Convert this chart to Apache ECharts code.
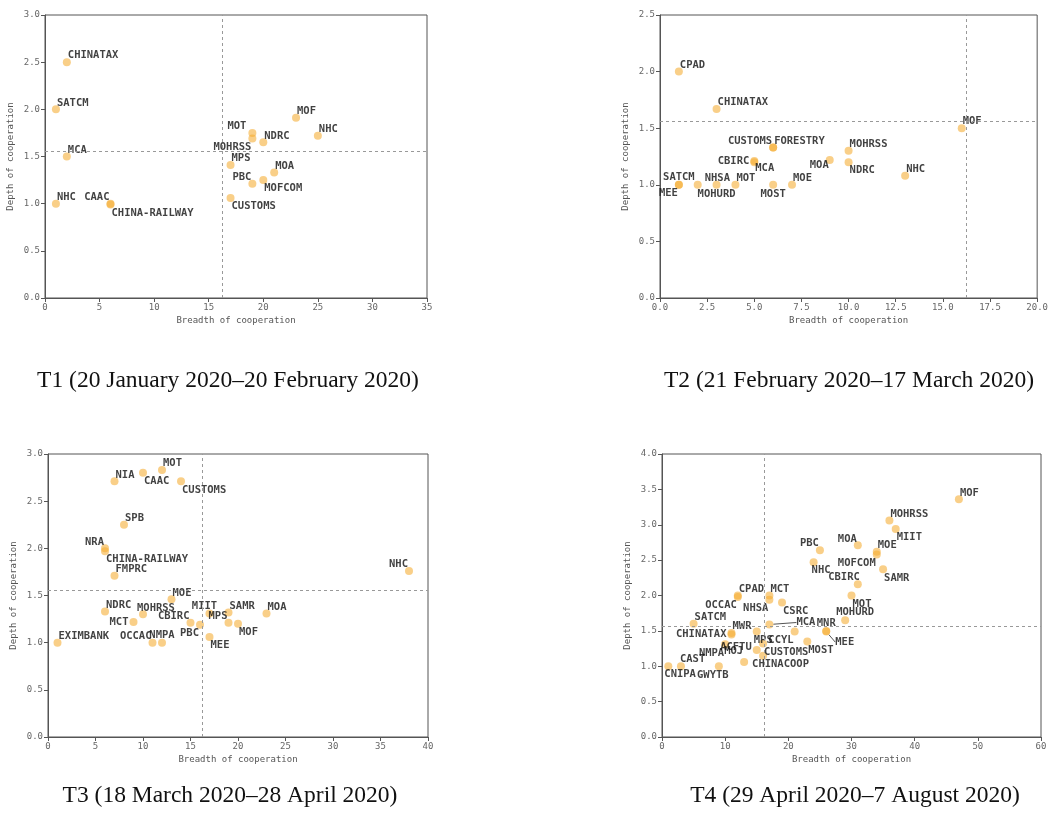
<!DOCTYPE html>
<html>
<head>
<meta charset="utf-8">
<script src="https://cdn.jsdelivr.net/npm/echarts@6/dist/echarts.min.js"></script>
<style>
  html, body { margin: 0; padding: 0; background: #fff; }
  #chart { width: 1051px; height: 837px; }
</style>
</head>
<body>
<div id="chart"></div>
<script>
// T1 (20 Jan - 20 Feb 2020)
const t1Names = ['CHINATAX', 'SATCM', 'MCA', 'NHC', 'CAAC', 'CHINA-RAILWAY', 'MOT', 'MOHRSS', 'NDRC',
  'MOF', 'NHC', 'MPS', 'MOA', 'PBC', 'MOFCOM', 'CUSTOMS'];
const t1Breadth = [2, 1, 2, 1, 6, 6, 19, 19, 20, 23, 25, 17, 21, 19, 20, 17];
const t1Depth = [2.5, 2.0, 1.5, 1.0, 1.0, 0.99, 1.75, 1.69, 1.65, 1.91, 1.72, 1.41, 1.33, 1.21, 1.25, 1.06];

// T2 (21 Feb - 17 Mar 2020)
const t2Names = ['CPAD', 'CHINATAX', 'MOF', 'CUSTOMS', 'FORESTRY', 'MOHRSS', 'NDRC', 'MOA', 'CBIRC', 'MCA',
  'NHC', 'SATCM', 'MEE', 'NHSA', 'MOHURD', 'MOT', 'MOST', 'MOE'];
const t2Breadth = [1, 3, 16, 6, 6, 10, 10, 9, 5, 5, 13, 1, 1, 2, 3, 4, 6, 7];
const t2Depth = [2.0, 1.67, 1.5, 1.33, 1.33, 1.3, 1.2, 1.22, 1.21, 1.2, 1.08, 1.0, 1.0, 1.0, 1.0, 1.0, 1.0, 1.0];

// T3 (18 Mar - 28 Apr 2020)
const t3Names = ['MOT', 'CAAC', 'NIA', 'CUSTOMS', 'SPB', 'NRA', 'CHINA-RAILWAY', 'FMPRC', 'NHC', 'MOE',
  'NDRC', 'MOHRSS', 'MCT', 'CBIRC', 'PBC', 'MIIT', 'MPS', 'SAMR', 'MOF', 'MOA', 'MEE', 'EXIMBANK', 'OCCAC', 'NMPA'];
const t3Breadth = [12, 10, 7, 14, 8, 6, 6, 7, 38, 13, 6, 10, 9, 15, 16, 17, 19, 19, 20, 23, 17, 1, 11, 12];
const t3Depth = [2.83, 2.8, 2.71, 2.71, 2.25, 2.0, 1.97, 1.71, 1.76, 1.46, 1.33, 1.3, 1.22, 1.21, 1.19,
  1.31, 1.21, 1.32, 1.2, 1.31, 1.06, 1.0, 1.0, 1.0];

// T4 (29 Apr - 7 Aug 2020)
const t4Names = ['MOF', 'MOHRSS', 'MIIT', 'PBC', 'MOA', 'MOE', 'MOFCOM', 'NHC', 'SAMR', 'CBIRC', 'MOT',
  'CPAD', 'OCCAC', 'MCT', 'NHSA', 'CSRC', 'SATCM', 'MWR', 'CHINATAX', 'MCA', 'MNR', 'MEE', 'MPS', 'CCYL',
  'MOST', 'MOHURD', 'NMPA', 'ACFTU', 'MOJ', 'CUSTOMS', 'CHINACOOP', 'CAST', 'CNIPA', 'GWYTB'];
const t4Breadth = [47, 36, 37, 25, 31, 34, 34, 24, 35, 31, 30, 12, 12, 17, 17, 19, 5, 11, 11, 17, 26, 26,
  15, 21, 23, 29, 10, 15, 13, 16, 16, 3, 1, 9];
const t4Depth = [3.36, 3.06, 2.94, 2.64, 2.71, 2.62, 2.58, 2.47, 2.37, 2.16, 2.0, 2.0, 1.98, 2.0, 1.94, 1.9,
  1.6, 1.47, 1.45, 1.59, 1.5, 1.49, 1.49, 1.49, 1.35, 1.65, 1.31, 1.23, 1.06, 1.32, 1.15, 1.0, 1.0, 1.0];

// dashed reference lines (average breadth / depth)
const meanBreadth = [16.25, 16.25, 16.2, 16.2];
const meanDepth = [1.56, 1.56, 1.56, 1.56];

const captions = [
  'T1 (20 January 2020\u201320 February 2020)',
  'T2 (21 February 2020\u201317 March 2020)',
  'T3 (18 March 2020\u201328 April 2020)',
  'T4 (29 April 2020\u20137 August 2020)'
];

// label placement per point (style only): compass code, optional dx, dy, leader line dx, dy
const t1Place = ['ne', 'ne', 'ne', 'ne', 'nw', 'se', ['nw', -5, 0], 'sw', 'ne', 'ne', 'ne', 'ne', 'ne', 'nw', 'se', 'se'];
const t2Place = ['ne', 'ne', 'ne', 'nw', 'ne', 'ne', 'se', ['sw', 0, -3], 'w', ['se', 0, -2], 'ne', 'n', 'sw',
  ['ne', 6, 0], 's', 'ne', 's', 'ne'];
const t3Place = ['ne', 'se', 'ne', 'se', 'ne', 'nw', 'se', 'ne', 'nw', 'ne', 'ne', ['ne', -7, 0], 'w', 'nw',
  'sw', ['n', -5, 0], 'nw', 'ne', 'se', 'ne', 'se', 'ne', 'nw', 'n'];
const t4Place = ['ne', 'ne', 'se', 'nw', 'nw', 'ne', 'sw', ['se', -3, 0], 'se', ['nw', 3, 0], 'se',
  'ne', 'sw', 'ne', 'sw', 'se', 'ne', 'ne', 'w', ['e', 0, 0, 22, -2], 'n', ['se', 0, 0, 8, 2], ['se', -4, 0], 'sw',
  'se', ['n', 10, 0], 'sw', ['w', 0, -3], ['nw', 0, -4], 'se', ['se', -12, 0], ['ne', -2, 0], ['se', -5, 0], ['s', -6, 0]];

const SYM = 8;
const POINT_COLOR = 'rgba(245, 172, 48, 0.72)';
const LABEL_FONT = 'DejaVu Sans Mono';

function labelFor(p) {
  const [code, dx = 0, dy = 0] = Array.isArray(p) ? p : [p];
  const c = SYM / 2;
  const anchors = {
    ne: [c + 1, c - 1, 'left', 'bottom'],
    nw: [c - 1, c - 1, 'right', 'bottom'],
    se: [c + 1, c + 3, 'left', 'top'],
    sw: [c - 1, c + 3, 'right', 'top'],
    n: [c, c - 2, 'center', 'bottom'],
    s: [c, c + 4, 'center', 'top'],
    e: [c + 5, c, 'left', 'middle'],
    w: [c - 5, c, 'right', 'middle']
  };
  const a = anchors[code];
  return {
    show: true,
    position: [a[0] + dx, a[1] + dy],
    align: a[2],
    verticalAlign: a[3]
  };
}

function buildSeries(idx, names, xs, ys, place) {
  const data = names.map(function (n, i) {
    const p = place[i];
    const item = { name: n, value: [xs[i], ys[i]], label: labelFor(p) };
    if (Array.isArray(p) && p.length > 3) {
      item.labelLine = { show: true, lineStyle: { color: '#555', width: 1 } };
    }
    return item;
  });
  return {
    type: 'scatter',
    xAxisIndex: idx,
    yAxisIndex: idx,
    symbolSize: SYM,
    itemStyle: { color: POINT_COLOR },
    label: {
      formatter: '{b}',
      color: '#111',
      fontFamily: LABEL_FONT,
      fontSize: 10.5,
      fontWeight: 'bold'
    },
    labelLayout: function (params) {
      const p = place[params.dataIndex];
      if (Array.isArray(p) && p.length > 3) {
        return { dx: p[3], dy: p[4] };
      }
      return {};
    },
    data: data,
    markLine: {
      silent: true,
      symbol: 'none',
      label: { show: false },
      lineStyle: { color: '#999', type: [3, 3], width: 1 },
      data: [{ xAxis: meanBreadth[idx] }, { yAxis: meanDepth[idx] }]
    }
  };
}

function xAxisFor(idx, max, interval, decimals) {
  return {
    type: 'value', gridIndex: idx, min: 0, max: max, interval: interval,
    name: 'Breadth of cooperation', nameLocation: 'middle', nameGap: 18,
    nameTextStyle: { color: '#555', fontFamily: LABEL_FONT, fontSize: 9 },
    axisLine: { lineStyle: { color: '#555' } },
    axisTick: { show: true, length: 4, lineStyle: { color: '#555' } },
    axisLabel: {
      color: '#666', fontFamily: LABEL_FONT, fontSize: 9, margin: 5,
      formatter: function (v) { return decimals ? v.toFixed(1) : String(v); }
    },
    splitLine: { show: false }
  };
}

function yAxisFor(idx, max) {
  return {
    type: 'value', gridIndex: idx, min: 0, max: max, interval: 0.5,
    name: 'Depth of cooperation', nameLocation: 'middle', nameGap: 30,
    nameTextStyle: { color: '#555', fontFamily: LABEL_FONT, fontSize: 9 },
    axisLine: { lineStyle: { color: '#555' } },
    axisTick: { show: true, length: 4, lineStyle: { color: '#555' } },
    axisLabel: {
      color: '#666', fontFamily: LABEL_FONT, fontSize: 9, margin: 5,
      formatter: function (v) { return v.toFixed(1); }
    },
    splitLine: { show: false }
  };
}

const gridBox = { show: true, borderColor: '#555', borderWidth: 1, backgroundColor: 'transparent' };
const captionPos = [[228, 369], [849, 369], [230, 784], [855, 784]];

const chart = echarts.init(document.getElementById('chart'));
chart.setOption({
  backgroundColor: '#fff',
  animation: false,
  grid: [
    Object.assign({ left: 45, top: 15, width: 382, height: 283 }, gridBox),
    Object.assign({ left: 660, top: 15, width: 380, height: 283 }, gridBox),
    Object.assign({ left: 48, top: 454, width: 380, height: 283 }, gridBox),
    Object.assign({ left: 662, top: 454, width: 379, height: 283 }, gridBox)
  ],
  xAxis: [
    xAxisFor(0, 35, 5, false),
    xAxisFor(1, 20, 2.5, true),
    xAxisFor(2, 40, 5, false),
    xAxisFor(3, 60, 10, false)
  ],
  yAxis: [yAxisFor(0, 3), yAxisFor(1, 2.5), yAxisFor(2, 3), yAxisFor(3, 4)],
  graphic: captions.map(function (t, i) {
    return {
      type: 'text', x: captionPos[i][0], y: captionPos[i][1],
      style: { text: t, fill: '#111', font: '23.5px "Liberation Serif"', textAlign: 'center' }
    };
  }),
  series: [
    buildSeries(0, t1Names, t1Breadth, t1Depth, t1Place),
    buildSeries(1, t2Names, t2Breadth, t2Depth, t2Place),
    buildSeries(2, t3Names, t3Breadth, t3Depth, t3Place),
    buildSeries(3, t4Names, t4Breadth, t4Depth, t4Place)
  ]
});
</script>
</body>
</html>
